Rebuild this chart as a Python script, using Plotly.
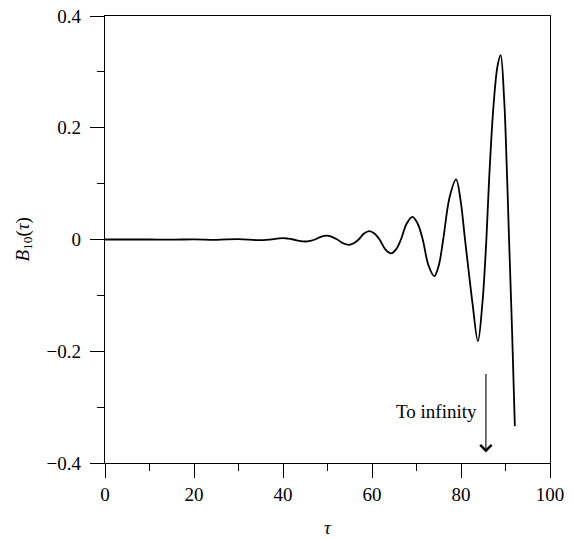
import plotly.graph_objects as go

# B10(tau)
tau = [0, 5, 10, 15, 20, 25, 30, 35, 40, 41.15, 42.3, 43.65, 45, 46.1, 47.2, 48.5,
       49.8, 51.0, 52.2, 53.5, 54.8, 55.9, 57.0, 58.2, 59.4, 60.55, 61.7, 63.0,
       64.3, 65.4, 66.5, 67.8, 69.1, 70.25, 71.4, 72.7, 74.0, 75.0, 76.0, 77.45,
       78.9, 79.9, 80.9, 81.7, 82.6, 83.8, 84.8, 85.7, 86.3, 87.3, 88.2, 88.9,
       89.7, 90.3, 90.8, 91.5, 92.1]
b10 = [0.0, 0.0, 0.0, -0.0003, 0.0004, -0.0005, 0.0008, -0.0012, 0.0023, 0.0016,
       0.0, -0.0025, -0.0036, -0.0025, 0.0, 0.0048, 0.0068, 0.0048, 0.0, -0.0067,
       -0.0095, -0.0067, 0.0, 0.0106, 0.0150, 0.0106, 0.0, -0.0177, -0.0250,
       -0.0177, 0.0, 0.0287, 0.0406, 0.0287, 0.0, -0.0465, -0.0657, -0.0465, 0.0,
       0.076, 0.1075, 0.070, 0.0, -0.055, -0.115, -0.182, -0.115, 0.0, 0.105,
       0.239, 0.310, 0.330, 0.250, 0.125, 0.0, -0.170, -0.334]

arrow_tau = 85.6
arrow_from = -0.238
arrow_to = -0.381
label_tau = 84.0
label_y = -0.307

SERIF = "Liberation Serif, Times New Roman, serif"

fig = go.Figure()

fig.add_trace(go.Scatter(
    x=tau,
    y=b10,
    mode="lines",
    line=dict(color="black", width=1.8, shape="spline", smoothing=1.0),
    showlegend=False,
))

# arrow pointing down
fig.add_annotation(
    x=arrow_tau, y=arrow_to, ax=arrow_tau, ay=arrow_from,
    xref="x", yref="y", axref="x", ayref="y",
    text="", showarrow=True,
    arrowhead=4, arrowsize=2.0, arrowwidth=1.1, arrowcolor="black",
)
fig.add_annotation(
    x=label_tau, y=label_y, xref="x", yref="y",
    text="To infinity", showarrow=False,
    xanchor="right", yanchor="middle",
    font=dict(family=SERIF, size=19, color="black"),
)

# axis titles
fig.add_annotation(
    x=0.5, y=0, xref="paper", yref="paper", yshift=-64,
    text="<i>τ</i>", showarrow=False, xanchor="center", yanchor="middle",
    font=dict(family=SERIF, size=19, color="black"),
)
fig.add_annotation(
    x=0, y=0.5, xref="paper", yref="paper", xshift=-82,
    text="<i>B</i><sub>10</sub>(<i>τ</i>)", showarrow=False, textangle=-90,
    xanchor="center", yanchor="middle",
    font=dict(family=SERIF, size=19, color="black"),
)

axis_style = dict(
    showgrid=False, zeroline=False, automargin=False,
    showline=True, linecolor="black", linewidth=1.3, mirror=True,
    ticks="outside", ticklen=14, tickwidth=1.3, tickcolor="black",
    tickfont=dict(family=SERIF, size=19, color="black"),
)

fig.update_layout(
    width=574, height=540,
    margin=dict(l=105, r=24, t=16, b=77),
    plot_bgcolor="white", paper_bgcolor="white",
    xaxis=dict(
        range=[0, 100], tickmode="linear", tick0=0, dtick=20,
        minor=dict(tickmode="linear", tick0=0, dtick=10, ticks="outside",
                   ticklen=7, tickwidth=1.3, tickcolor="black"),
        **axis_style,
    ),
    yaxis=dict(
        range=[-0.4, 0.4], tickmode="linear", tick0=-0.4, dtick=0.2,
        ticklabelstandoff=5,
        minor=dict(tickmode="linear", tick0=-0.4, dtick=0.1, ticks="outside",
                   ticklen=7, tickwidth=1.3, tickcolor="black"),
        **axis_style,
    ),
)

# drop the default body margin so the figure fills the window exactly
fig.write_html("out.html", config={"displayModeBar": False},
               post_script="document.body.style.margin = '0';")
